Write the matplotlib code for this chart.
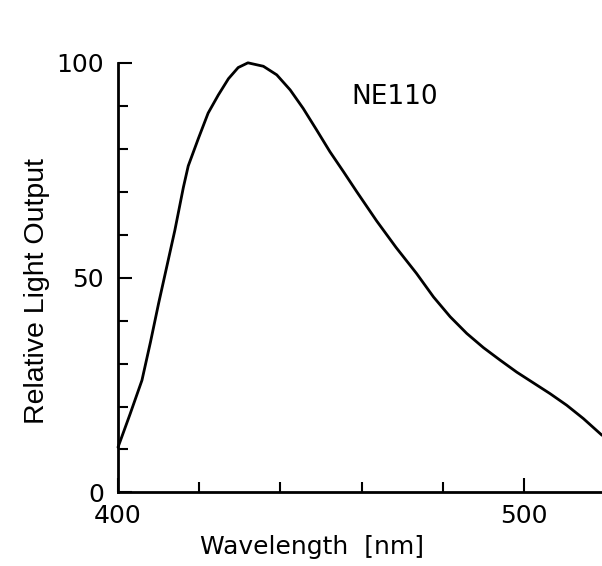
import matplotlib
matplotlib.use('Agg')
import matplotlib.pyplot as plt

# emission spectrum of NE110 scintillator
wavelength = [400, 403, 405.9, 408, 410, 412, 414, 416.1, 417.3, 419.8, 422.2,
              424.7, 427.2, 429.6, 432, 435.8, 439.1, 442.4, 445.6, 448.9,
              452.2, 455.5, 458.8, 463.7, 468.5, 473.5, 477.7, 481.8, 485.9,
              490, 494.1, 498.2, 502.3, 506.4, 510.5, 514.6, 519.2]
light_output = [10.5, 18.3, 26.1, 35, 44, 52.5, 61, 71, 76, 82.4, 88.3,
                92.5, 96.3, 98.9, 100, 99.2, 97.2, 93.7, 89.4, 84.4,
                79.3, 74.7, 70.0, 63.2, 57, 51, 45.5, 40.9, 37.0,
                33.7, 30.8, 28, 25.5, 23, 20.3, 17.2, 13.3]

x_major = [400, 500]
x_minor = [420, 440, 460, 480]
y_major = [0, 50, 100]
y_minor = [10, 20, 30, 40, 60, 70, 80, 90]

INK = "#000000"

fig = plt.figure(figsize=(6.02, 5.66), dpi=100, facecolor="white")
ax = fig.add_axes([0.196, 0.130, 0.804, 0.759])

ax.plot(wavelength, light_output, color=INK, lw=2.0, clip_on=False,
        solid_joinstyle="round", solid_capstyle="round")

ax.set_xlim(400, 519.2)
ax.set_ylim(0, 100)

for s in ("top", "right"):
    ax.spines[s].set_visible(False)
for s in ("left", "bottom"):
    ax.spines[s].set_linewidth(2.0)
    ax.spines[s].set_color(INK)

ax.set_xticks(x_major)
ax.set_xticks(x_minor, minor=True)
ax.set_yticks(y_major)
ax.set_yticks(y_minor, minor=True)
ax.tick_params(which="both", direction="in", width=1.5, color=INK, labelsize=18)
ax.tick_params(which="major", length=10)
ax.tick_params(which="minor", length=7)
ax.tick_params(axis="x", pad=8)
ax.tick_params(axis="y", pad=10)

ax.set_ylabel("Relative Light Output", fontsize=20.5, family="Liberation Sans")
ax.yaxis.set_label_coords(-0.14, 0.47)
ax.set_xlabel("Wavelength  [nm]", fontsize=18)
ax.xaxis.set_label_coords(0.40, -0.10)

ax.text(457.5, 92, "NE110", fontsize=19, va="center", ha="left")

fig.savefig("out.png", dpi=100, facecolor="white")
